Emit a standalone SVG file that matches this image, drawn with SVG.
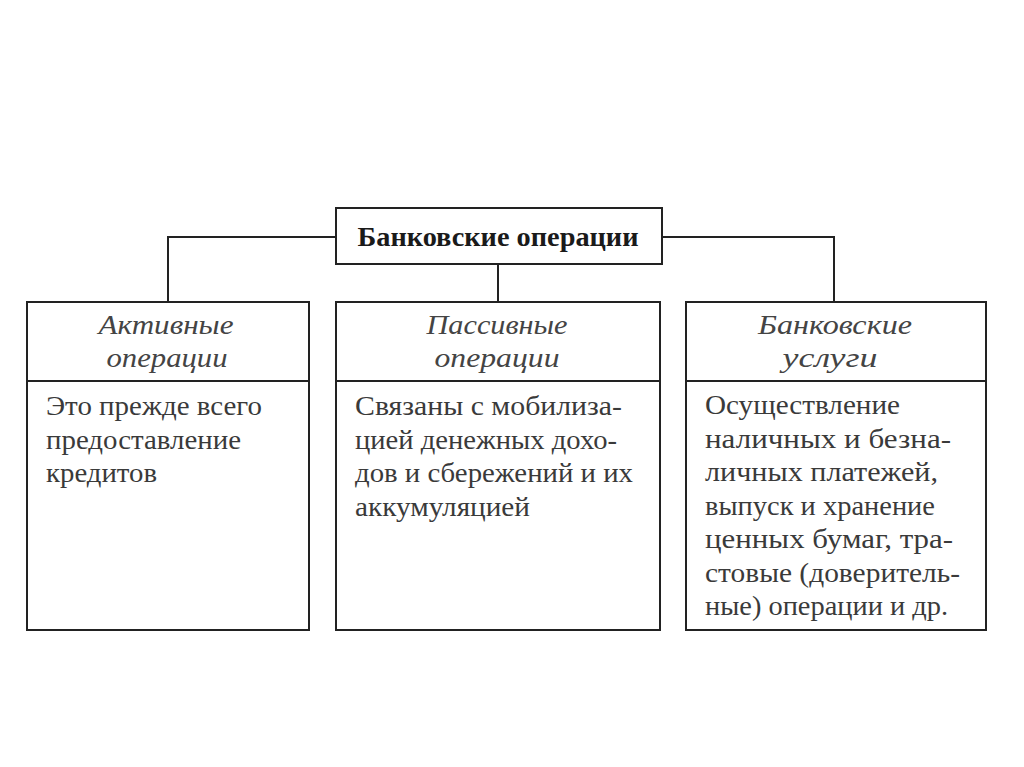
<svg xmlns="http://www.w3.org/2000/svg" width="1024" height="767" viewBox="0 0 1024 767">
<style>
.box{fill:#fff;stroke:#222;stroke-width:2}
.ln{fill:none;stroke:#222;stroke-width:2}
.title{font-family:"Liberation Serif",serif;font-weight:bold;font-size:28px;fill:#1a1a1a;text-anchor:middle}
.hd{font-family:"Liberation Serif",serif;font-style:italic;font-size:28px;fill:#444;text-anchor:middle}
.bd{font-family:"Liberation Serif",serif;font-size:27px;fill:#3a3a3a}
</style>
<rect width="1024" height="767" fill="#fff"/>
<g id="connectors">
<polyline class="ln" points="336,237 168,237 168,302"/>
<polyline class="ln" points="662,237 834,237 834,302"/>
<line class="ln" x1="498" y1="264" x2="498" y2="302"/>
</g>
<g id="root">
<rect class="box" x="336" y="208" width="326" height="56"/>
<text class="title" x="498" y="246" textLength="281" lengthAdjust="spacingAndGlyphs">Банковские операции</text>
</g>
<g id="active">
<rect class="box" x="27" y="302" width="282" height="328"/>
<line class="ln" x1="27" y1="381" x2="309" y2="381"/>
<text class="hd" x="166" y="334" textLength="135" lengthAdjust="spacingAndGlyphs">Активные</text>
<text class="hd" x="167" y="367" textLength="121" lengthAdjust="spacingAndGlyphs">операции</text>
<text class="bd" x="46" y="415" textLength="216" lengthAdjust="spacingAndGlyphs">Это прежде всего</text>
<text class="bd" x="46" y="449" textLength="195" lengthAdjust="spacingAndGlyphs">предоставление</text>
<text class="bd" x="46" y="482" textLength="111" lengthAdjust="spacingAndGlyphs">кредитов</text>
</g>
<g id="passive">
<rect class="box" x="336" y="302" width="324" height="328"/>
<line class="ln" x1="336" y1="381" x2="660" y2="381"/>
<text class="hd" x="497" y="334" textLength="141" lengthAdjust="spacingAndGlyphs">Пассивные</text>
<text class="hd" x="497" y="367" textLength="125" lengthAdjust="spacingAndGlyphs">операции</text>
<text class="bd" x="355" y="415" textLength="267" lengthAdjust="spacingAndGlyphs">Связаны с мобилиза-</text>
<text class="bd" x="355" y="449" textLength="262" lengthAdjust="spacingAndGlyphs">цией денежных дохо-</text>
<text class="bd" x="355" y="482" textLength="278" lengthAdjust="spacingAndGlyphs">дов и сбережений и их</text>
<text class="bd" x="355" y="516" textLength="175" lengthAdjust="spacingAndGlyphs">аккумуляцией</text>
</g>
<g id="services">
<rect class="box" x="686" y="302" width="300" height="328"/>
<line class="ln" x1="686" y1="381" x2="986" y2="381"/>
<text class="hd" x="835" y="334" textLength="154" lengthAdjust="spacingAndGlyphs">Банковские</text>
<text class="hd" x="830" y="367" textLength="95" lengthAdjust="spacingAndGlyphs">услуги</text>
<text class="bd" x="705" y="414" textLength="195" lengthAdjust="spacingAndGlyphs">Осуществление</text>
<text class="bd" x="705" y="448" textLength="246" lengthAdjust="spacingAndGlyphs">наличных и безна-</text>
<text class="bd" x="705" y="481" textLength="233" lengthAdjust="spacingAndGlyphs">личных платежей,</text>
<text class="bd" x="705" y="515" textLength="230" lengthAdjust="spacingAndGlyphs">выпуск и хранение</text>
<text class="bd" x="705" y="548" textLength="248" lengthAdjust="spacingAndGlyphs">ценных бумаг, тра-</text>
<text class="bd" x="705" y="582" textLength="255" lengthAdjust="spacingAndGlyphs">стовые (доверитель-</text>
<text class="bd" x="705" y="615" textLength="243" lengthAdjust="spacingAndGlyphs">ные) операции и др.</text>
</g>
</svg>
